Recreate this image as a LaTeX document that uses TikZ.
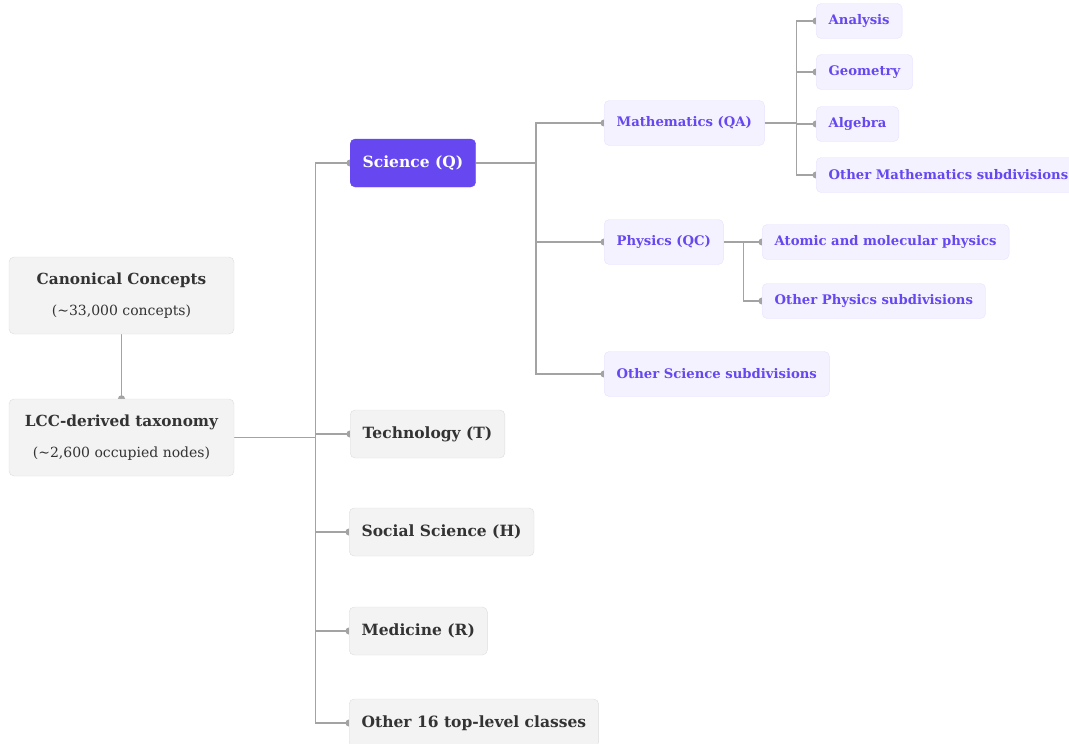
\documentclass[tikz,border=0pt]{standalone}
\usepackage{fontspec}
\setmainfont{DejaVu Serif}
\usetikzlibrary{arrows.meta,backgrounds}
\definecolor{boxgrey}{HTML}{F3F3F3}
\definecolor{linegrey}{HTML}{DDDDDD}
\definecolor{textdark}{HTML}{333333}
\definecolor{mainpurple}{HTML}{6647F0}
\definecolor{palepurple}{HTML}{F4F2FF}
\definecolor{paleline}{HTML}{E6E1FF}
\definecolor{linkgrey}{HTML}{A3A3A3}

\begin{document}
\begin{tikzpicture}[x=1pt,y=-1pt,
greybox/.style={draw=linegrey,fill=boxgrey,rounded corners=5pt,text=textdark,font=\bfseries\fontsize{15.5}{19}\selectfont,inner xsep=12.5pt,minimum height=48pt,anchor=west},
rootbox/.style={draw=linegrey,fill=boxgrey,rounded corners=5pt,text=textdark,font=\fontsize{15.3}{31}\selectfont,align=center,minimum width=225pt,minimum height=77pt},
mainbox/.style={greybox,draw=mainpurple,fill=mainpurple,text=white},
palebox/.style={draw=paleline,fill=palepurple,rounded corners=5pt,text=mainpurple,font=\bfseries\fontsize{13.2}{16}\selectfont,inner xsep=12.5pt,minimum height=45pt,anchor=west},
leafbox/.style={palebox,minimum height=35pt},
link/.style={draw=linkgrey,line width=1.4pt,shorten >=-3.5pt,-{Circle[length=7pt,width=7pt]}}]
\useasboundingbox (0,0) rectangle (1069,744);

\node[rootbox] at (121.5,295.5) (canon) {{\bfseries Canonical Concepts}\\{\fontsize{14}{31}\selectfont (∼33,000 concepts)}};
\node[rootbox] at (121.5,437.5) (lcc) {{\bfseries LCC-derived taxonomy}\\{\fontsize{14}{31}\selectfont (∼2,600 occupied nodes)}};

\node[mainbox] at (350,163) (sci) {Science (Q)};
\node[greybox] at (350,434) (tech) {Technology (T)};
\node[greybox] at (349,532) (soc) {Social Science (H)};
\node[greybox] at (349,631) (med) {Medicine (R)};
\node[greybox] at (349,723) (oth) {Other 16 top-level classes};

\node[palebox] at (604,123) (math) {Mathematics (QA)};
\node[palebox] at (604,242) (phys) {Physics (QC)};
\node[palebox] at (604,374) (othsci) {Other Science subdivisions};

\node[leafbox] at (816,21) (ana) {Analysis};
\node[leafbox] at (816,72) (geo) {Geometry};
\node[leafbox] at (816,124) (alg) {Algebra};
\node[leafbox] at (816,175) (othmath) {Other Mathematics subdivisions};

\node[leafbox] at (762,242) (atom) {Atomic and molecular physics};
\node[leafbox] at (762,301) (othphys) {Other Physics subdivisions};

\begin{scope}[on background layer]
\draw[link] (canon) -- (lcc);
\foreach \c in {sci,tech,soc,med,oth}
  \draw[link] (lcc.east) -- ++(81,0) |- (\c.west);
\foreach \c in {math,phys,othsci}
  \draw[link] (sci.east) -- ++(60,0) |- (\c.west);
\foreach \c in {ana,geo,alg,othmath}
  \draw[link] (math.east) -- ++(32,0) |- (\c.west);
\foreach \c in {atom,othphys}
  \draw[link] (phys.east) -- ++(20,0) |- (\c.west);
\end{scope}
\end{tikzpicture}
\end{document}
